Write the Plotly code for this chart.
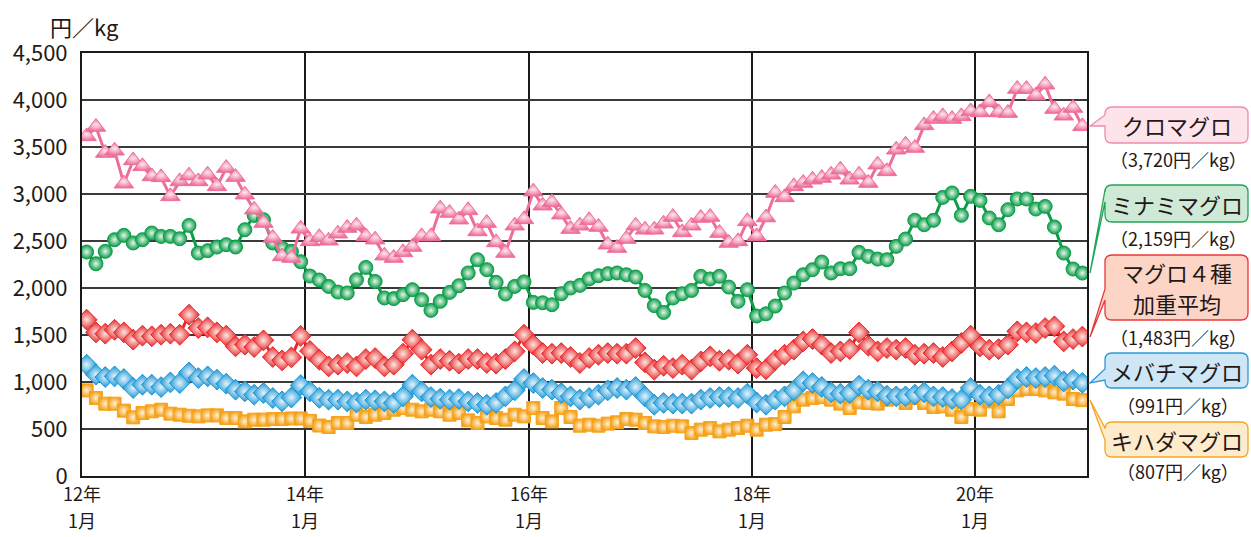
import plotly.graph_objects as go

# ---------------- data (monthly, 2012-01 .. 2020-12) ----------------
months = list(range(108))
kuro = [3613, 3713, 3436, 3460, 3110, 3357, 3294, 3187, 3177, 2975, 3134, 3195, 3134, 3205, 3081, 3276, 3180, 2993, 2833, 2691, 2532, 2336, 2319, 2630, 2496, 2540,
        2503, 2578, 2638, 2663, 2549, 2514, 2344, 2319, 2379, 2436, 2549, 2549, 2844, 2798, 2727, 2826, 2602, 2691, 2485, 2372, 2663, 2730, 3025, 2876,
        2911, 2780, 2627, 2663, 2720, 2649, 2461, 2425, 2521, 2663, 2620, 2620, 2684, 2755, 2592, 2663, 2745, 2755, 2585, 2479, 2496, 2709, 2549, 2750, 3011,
        2964, 3081, 3117, 3152, 3170, 3205, 3259, 3152, 3205, 3117, 3312, 3241, 3471, 3524, 3489, 3730, 3798, 3826, 3798, 3826, 3879, 3868, 3974, 3868, 3861, 4117, 4117, 4046, 4163, 3904, 3833, 3915, 3720]
minami = [2383, 2258, 2390, 2514, 2560, 2479, 2514, 2585, 2549, 2549, 2524, 2666, 2372, 2397, 2436, 2461, 2436, 2620, 2772, 2727, 2479, 2425, 2390, 2280, 2127, 2085,
          2017, 1957, 1947, 2088, 2219, 2070, 1894, 1887, 1929, 1982, 1876, 1762, 1858, 1953, 2024, 2160, 2301, 2195, 2060, 1936, 2017, 2065, 1847, 1843,
          1822, 1939, 2000, 2028, 2096, 2131, 2152, 2160, 2141, 2117, 1974, 1812, 1740, 1894, 1939, 1974, 2124, 2096, 2124, 2010, 1858, 1982, 1702, 1725, 1808,
          1947, 2053, 2141, 2195, 2276, 2160, 2205, 2205, 2379, 2336, 2308, 2301, 2443, 2521, 2720, 2673, 2720, 2964, 3011, 2773, 2975, 2932, 2745, 2673, 2833, 2947, 2947, 2840, 2868, 2649, 2372, 2202, 2159]
heikin = [1663, 1528, 1514, 1556, 1528, 1450, 1493, 1486, 1503, 1514, 1503, 1716, 1574, 1581, 1528, 1493, 1379, 1397, 1372, 1443, 1266, 1230, 1262, 1490, 1330, 1237,
          1166, 1184, 1202, 1166, 1244, 1255, 1166, 1184, 1301, 1450, 1344, 1184, 1244, 1226, 1195, 1244, 1244, 1202, 1195, 1244, 1326, 1503, 1397, 1308,
          1301, 1308, 1266, 1202, 1255, 1290, 1308, 1301, 1301, 1361, 1209, 1131, 1173, 1148, 1184, 1131, 1219, 1273, 1226, 1237, 1195, 1290, 1148, 1135, 1235,
          1290, 1344, 1432, 1457, 1397, 1308, 1326, 1350, 1528, 1386, 1326, 1361, 1344, 1361, 1290, 1301, 1308, 1266, 1326, 1415, 1493, 1379, 1344, 1350, 1397, 1539, 1528, 1521, 1574, 1592, 1432, 1457, 1483]
mebachi = [1184, 1078, 1053, 1060, 1032, 936, 971, 971, 946, 996, 989, 1102, 1042, 1060, 1025, 982, 918, 900, 865, 883, 830, 794, 835, 966, 900, 831,
           812, 812, 794, 783, 812, 805, 794, 777, 847, 971, 900, 840, 822, 812, 819, 794, 777, 758, 777, 847, 911, 1032, 989, 936,
           918, 883, 847, 812, 830, 865, 911, 936, 918, 947, 847, 758, 777, 770, 770, 770, 812, 830, 840, 840, 830, 876, 782, 758, 812,
           847, 911, 1007, 989, 947, 890, 876, 883, 961, 918, 900, 854, 847, 847, 865, 890, 847, 840, 819, 812, 936, 865, 847, 865, 929, 1032, 1053, 1042, 1053, 1067, 1007, 1025, 991]
kihada = [911, 830, 769, 769, 695, 624, 670, 688, 705, 663, 652, 641, 634, 645, 645, 617, 617, 581, 599, 599, 606, 606, 612, 612, 587, 537,
          521, 564, 564, 652, 628, 652, 670, 705, 723, 705, 688, 705, 688, 652, 670, 592, 564, 634, 617, 599, 652, 634, 723, 617,
          581, 723, 628, 535, 546, 535, 557, 571, 606, 599, 564, 528, 521, 535, 528, 457, 493, 510, 475, 493, 510, 535, 493, 546, 552,
          628, 741, 812, 830, 840, 812, 770, 723, 783, 777, 770, 812, 854, 777, 830, 777, 734, 741, 705, 628, 712, 705, 794, 688, 819, 911, 925, 925, 911, 890, 876, 819, 807]

x_tick_vals = [-0.5, 23.5, 47.5, 71.5, 95.5]
x_tick_year = ["12年", "14年", "16年", "18年", "20年"]
x_tick_month = ["1月", "1月", "1月", "1月", "1月"]
y_ticks = [0, 500, 1000, 1500, 2000, 2500, 3000, 3500, 4000, 4500]

labels = [["クロマグロ"], ["ミナミマグロ"], ["マグロ４種", "加重平均"], ["メバチマグロ"], ["キハダマグロ"]]
sublabels = ["（3,720円／kg）", "（2,159円／kg）", "（1,483円／kg）", "（991円／kg）", "（807円／kg）"]

FONT = "Noto Sans CJK JP"
TXT = "#231815"

fig = go.Figure()

series = [
    (kihada, "キハダマグロ", "square", 13, "#f5a21c", "#fff1d6"),
    (mebachi, "メバチマグロ", "diamond", 16, "#1d97d5", "#e3f3fc"),
    (heikin, "加重平均", "diamond", 16, "#e8272c", "#fde6de"),
    (minami, "ミナミマグロ", "circle", 14, "#0b9d48", "#e6f6ea"),
    (kuro, "クロマグロ", "triangle-up", 17, "#ee6e99", "#fde8ef"),
]
for vals, name, sym, size, col, light in series:
    fig.add_trace(go.Scatter(
        x=months, y=vals, name=name, mode="lines+markers",
        line=dict(color=col, width=3),
        marker=dict(symbol=sym, size=size, color=col,
                    gradient=dict(type="radial", color=light),
                    line=dict(color=col, width=1)),
        showlegend=False, hoverinfo="skip"))

W, H = 1251, 537
L, R, T, B = 82, 1087, 53, 476

def px(x):
    return (x - L) / (R - L)

def py(y):
    return (B - y) / (B - T)

def P(x, y):
    return f"{px(x):.5f},{py(y):.5f}"

def callout(x0, y0, x1, y1, bt, bb, tx, ty, r=7):
    return (f"M{P(x0 + r, y0)} L{P(x1 - r, y0)} Q{P(x1, y0)} {P(x1, y0 + r)} "
            f"L{P(x1, y1 - r)} Q{P(x1, y1)} {P(x1 - r, y1)} L{P(x0 + r, y1)} Q{P(x0, y1)} {P(x0, y1 - r)} "
            f"L{P(x0, bb)} L{P(tx, ty)} L{P(x0, bt)} L{P(x0, y0 + r)} Q{P(x0, y0)} {P(x0 + r, y0)} Z")

bx0, bx1 = 1105, 1248
boxes = [
    # y0, y1, base top, base bottom, tip y, fill, border, sub y
    (107, 143, 115, 126, 126, "#fde3ea", "#f08cab", 159),
    (185, 222, 190, 202, 273, "#cfe9d7", "#22a456", 238),
    (255, 320, 289, 300, 337, "#fcd5c6", "#e8383a", 337),
    (353, 388, 369, 380, 383, "#cfe6f6", "#2b9ad7", 405),
    (422, 457, 428, 440, 400, "#fdebcc", "#f5a623", 471),
]
shapes = []
annotations = []
for (y0, y1, bt, bb, ty, fill, border, suby), lab, sub in zip(boxes, labels, sublabels):
    shapes.append(dict(type="path", xref="paper", yref="paper",
                       path=callout(bx0, y0, bx1, y1, bt, bb, 1090, ty),
                       fillcolor=fill, line=dict(color=border, width=1.3), layer="above"))
    n = len(lab)
    step = 31
    cy = (y0 + y1) / 2
    for k, line_text in enumerate(lab):
        yy = cy + (k - (n - 1) / 2) * step
        annotations.append(dict(xref="paper", yref="paper", x=px((bx0 + bx1) / 2), y=py(yy),
                                text=line_text, showarrow=False, xanchor="center", yanchor="middle",
                                font=dict(family=FONT, size=22, color=TXT)))
    annotations.append(dict(xref="paper", yref="paper", x=px(1178), y=py(suby),
                            text=sub, showarrow=False, xanchor="center", yanchor="middle",
                            font=dict(family=FONT, size=18, color=TXT)))

# x-axis category labels (two rows), placed at the axis tick positions
for xv, yr, mo in zip(x_tick_vals, x_tick_year, x_tick_month):
    annotations.append(dict(xref="x", yref="paper", x=xv, y=py(493), text=yr, showarrow=False,
                            xanchor="center", yanchor="middle", borderpad=0,
                            font=dict(family=FONT, size=18, color=TXT)))
    annotations.append(dict(xref="x", yref="paper", x=xv, y=py(520), text=mo, showarrow=False,
                            xanchor="center", yanchor="middle", borderpad=0,
                            font=dict(family=FONT, size=18, color=TXT)))

annotations.append(dict(xref="paper", yref="paper", x=px(84), y=py(26), text="円／kg",
                        showarrow=False, xanchor="center", yanchor="middle",
                        font=dict(family=FONT, size=22, color=TXT)))

fig.update_layout(
    width=W, height=H,
    margin=dict(l=L, r=W - R, t=T, b=H - B, pad=0, autoexpand=False),
    paper_bgcolor="white", plot_bgcolor="white",
    font=dict(family=FONT, size=21, color=TXT),
    shapes=shapes, annotations=annotations,
    xaxis=dict(range=[-0.5, 107.5], tickmode="array", tickvals=x_tick_vals, showticklabels=False,
               showgrid=True, gridcolor="#1a1a1a", gridwidth=1.5, zeroline=False,
               showline=True, linecolor="#1a1a1a", linewidth=2, mirror=True, automargin=False,
               ticks=""),
    yaxis=dict(range=[0, 4500], tickmode="array", tickvals=y_ticks, tickformat=",d",
               showgrid=True, gridcolor="#3a3a3a", gridwidth=1.5, zeroline=False,
               showline=True, linecolor="#1a1a1a", linewidth=2, mirror=True, automargin=False,
               ticks="", ticklabelstandoff=8, tickfont=dict(family=FONT, size=22, color=TXT)),
)

fig.write_html("out.html", config={"displayModeBar": False},
               post_script="document.body.style.margin='0';document.body.style.padding='0';")
